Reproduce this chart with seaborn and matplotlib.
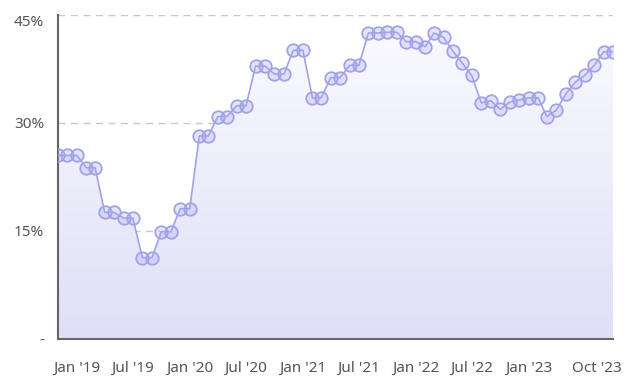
import numpy as np
import pandas as pd
import matplotlib
matplotlib.use("Agg")
import matplotlib.pyplot as plt
import matplotlib.dates as mdates
import matplotlib.transforms as mtransforms
from matplotlib.colors import LinearSegmentedColormap
from matplotlib.ticker import FixedLocator, FuncFormatter
import seaborn as sns

# monthly values, Nov 2018 .. Oct 2023 (percent)
months = pd.date_range("2018-11-01", "2023-10-01", freq="MS")
share = [
    25.5, 25.5, 25.5, 23.8, 23.8,
    17.6, 17.6, 16.8, 16.8, 11.3, 11.3, 14.9, 14.9, 18.1, 18.1,
    28.2, 28.2, 30.9, 30.9, 32.4, 32.4, 37.9, 37.9, 36.8, 36.8, 40.1, 40.1,
    33.5, 33.5, 36.3, 36.3, 38.0, 38.0, 42.5, 42.5, 42.6, 42.6, 41.3, 41.3,
    40.6, 42.5, 41.9, 40.0, 38.3, 36.6, 32.8, 33.1, 31.9, 32.9, 33.2, 33.5,
    33.5, 30.9, 31.8, 34.0, 35.7, 36.6, 38.0, 39.9, 39.9,
]
y_ticks = [0, 15, 30, 45]
x_tick_dates = ["2019-01-01", "2019-07-01", "2020-01-01", "2020-07-01",
                "2021-01-01", "2021-07-01", "2022-01-01", "2022-07-01",
                "2023-01-01", "2023-10-01"]

df = pd.DataFrame({"month": months, "share": share})

sns.set_theme(style="white")
plt.rcParams["font.family"] = ["Noto Sans", "DejaVu Sans"]

line_col = "#a2a2e8"
fig = plt.figure(figsize=(6.26, 3.92), dpi=100)
ax = fig.add_axes([58 / 626, 1 - 339 / 392, (613 - 58) / 626, (339 - 15) / 392])

# gradient area under the line (darker at the bottom)
poly = ax.fill_between(df["month"], df["share"], 0, color="none", lw=0)
xlo, xhi = mdates.date2num(months[0]), mdates.date2num(months[-1])
grad = np.linspace(0, 1, 256).reshape(-1, 1)
cmap = LinearSegmentedColormap.from_list("g", ["#dfdff7", "#fbfbff"])
im = ax.imshow(grad, cmap=cmap, aspect="auto", extent=[xlo, xhi, 0, 45],
               origin="lower", zorder=1)
im.set_clip_path(poly.get_paths()[0], transform=ax.transData)

sns.lineplot(data=df, x="month", y="share", ax=ax, color=line_col, lw=1.2,
             marker="o", markersize=9, markeredgewidth=1.3,
             markeredgecolor=line_col,
             markerfacecolor=(0.66, 0.66, 0.93, 0.3), zorder=3)

ax.set_xlim(xlo, xhi)
ax.set_ylim(0, 45)
ax.set_xlabel("")
ax.set_ylabel("")

ax.yaxis.set_major_locator(FixedLocator(y_ticks))
ax.yaxis.set_major_formatter(FuncFormatter(lambda v, p: "-" if v == 0 else f"{v:.0f}%"))
ax.xaxis.set_major_locator(FixedLocator(mdates.date2num(pd.to_datetime(x_tick_dates))))
ax.xaxis.set_major_formatter(FuncFormatter(
    lambda v, p: mdates.num2date(v).strftime("%b '%y")))

for v in y_ticks[1:]:
    ax.axhline(v, color="#c8c8c8", lw=1, ls=(0, (5, 4)), zorder=0)

for s in ["top", "right"]:
    ax.spines[s].set_visible(False)
for s in ["left", "bottom"]:
    ax.spines[s].set_color("#666666")
    ax.spines[s].set_linewidth(1.5)

ax.tick_params(axis="both", which="major", direction="out", length=8,
               width=1.2, color="#666666", labelcolor="#555555", labelsize=11)
ax.tick_params(axis="x", pad=8)
ax.tick_params(axis="y", pad=2)

fig.canvas.draw()
# keep the last date label inside the figure
last = ax.get_xticklabels()[-1]
last.set_ha("right")
last.set_transform(last.get_transform() +
                   mtransforms.ScaledTranslation(0.09, 0, fig.dpi_scale_trans))
# top y label hangs below its gridline
ax.get_yticklabels()[-1].set_va("top")

fig.savefig("out.png", dpi=100)
